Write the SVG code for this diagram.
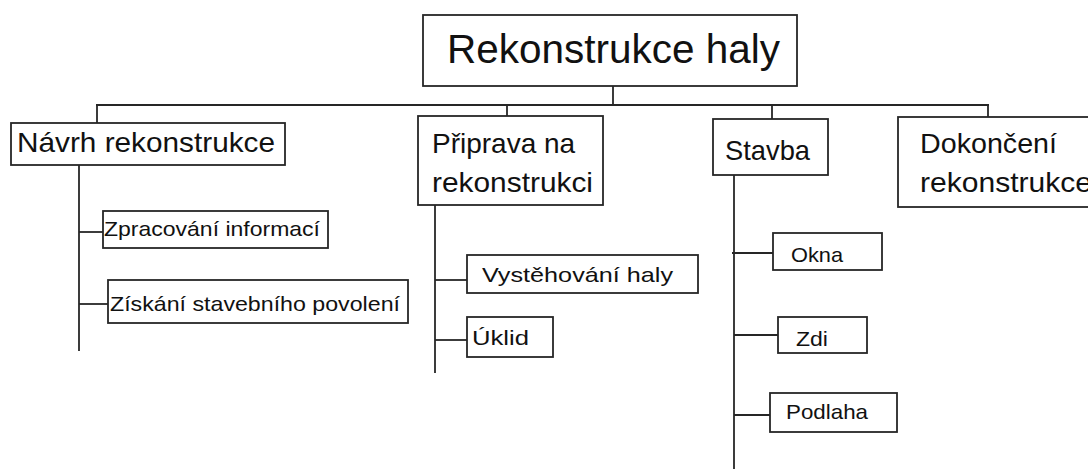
<svg xmlns="http://www.w3.org/2000/svg" width="1088" height="469" viewBox="0 0 1088 469">
  <style>
    .box { fill: #ffffff; stroke: #262626; stroke-width: 1.8; }
    .conn { fill: none; stroke: #262626; stroke-width: 1.8; }
    text { font-family: "Liberation Sans", Arial, sans-serif; fill: #111111; }
    .t1 { font-size: 41px; }
    .t2 { font-size: 28px; }
    .t3 { font-size: 21px; }
  </style>
  <rect width="1088" height="469" fill="#ffffff"/>
  <g id="connectors">
    <line class="conn" x1="613" y1="86" x2="613" y2="105"/>
    <line class="conn" x1="96" y1="105" x2="989" y2="105"/>
    <line class="conn" x1="97" y1="105" x2="97" y2="123"/>
    <line class="conn" x1="507" y1="105" x2="507" y2="116"/>
    <line class="conn" x1="772" y1="105" x2="772" y2="119"/>
    <line class="conn" x1="988" y1="105" x2="988" y2="117"/>
    <line class="conn" x1="79" y1="165" x2="79" y2="351"/>
    <line class="conn" x1="79" y1="232" x2="103" y2="232"/>
    <line class="conn" x1="79" y1="304" x2="108" y2="304"/>
    <line class="conn" x1="435" y1="205" x2="435" y2="373"/>
    <line class="conn" x1="435" y1="280" x2="467" y2="280"/>
    <line class="conn" x1="435" y1="340" x2="467" y2="340"/>
    <line class="conn" x1="734" y1="175" x2="734" y2="469"/>
    <line class="conn" x1="732" y1="253" x2="773" y2="253"/>
    <line class="conn" x1="734" y1="335" x2="778" y2="335"/>
    <line class="conn" x1="734" y1="415" x2="770" y2="415"/>
  </g>
  <g id="root">
    <rect class="box" x="423" y="15" width="374" height="71"/>
    <text class="t1" x="447" y="63" textLength="333" lengthAdjust="spacingAndGlyphs">Rekonstrukce haly</text>
  </g>
  <g id="navrh">
    <rect class="box" x="11" y="123" width="274" height="42"/>
    <text class="t2" x="17" y="152" textLength="258" lengthAdjust="spacingAndGlyphs">Návrh rekonstrukce</text>
  </g>
  <g id="zpracovani">
    <rect class="box" x="103" y="211" width="225" height="37"/>
    <text class="t3" x="104" y="236" textLength="216" lengthAdjust="spacingAndGlyphs">Zpracování informací</text>
  </g>
  <g id="ziskani">
    <rect class="box" x="108" y="280" width="300" height="43"/>
    <text class="t3" x="110" y="311" textLength="290" lengthAdjust="spacingAndGlyphs">Získání stavebního povolení</text>
  </g>
  <g id="priprava">
    <rect class="box" x="418" y="116" width="185" height="89"/>
    <text class="t2" x="432" y="153">Připrava na</text>
    <text class="t2" x="432" y="192" textLength="161" lengthAdjust="spacingAndGlyphs">rekonstrukci</text>
  </g>
  <g id="vystehovani">
    <rect class="box" x="467" y="255" width="231" height="38"/>
    <text class="t3" x="482" y="282" textLength="191" lengthAdjust="spacingAndGlyphs">Vystěhování haly</text>
  </g>
  <g id="uklid">
    <rect class="box" x="467" y="317" width="86" height="40"/>
    <text class="t3" x="472" y="345" textLength="57" lengthAdjust="spacingAndGlyphs">Úklid</text>
  </g>
  <g id="stavba">
    <rect class="box" x="713" y="119" width="115" height="56"/>
    <text class="t2" x="725" y="160" textLength="85" lengthAdjust="spacingAndGlyphs">Stavba</text>
  </g>
  <g id="okna">
    <rect class="box" x="773" y="233" width="109" height="37"/>
    <text class="t3" x="791" y="262" textLength="52" lengthAdjust="spacingAndGlyphs">Okna</text>
  </g>
  <g id="zdi">
    <rect class="box" x="778" y="317" width="89" height="36"/>
    <text class="t3" x="796" y="346" textLength="32" lengthAdjust="spacingAndGlyphs">Zdi</text>
  </g>
  <g id="podlaha">
    <rect class="box" x="770" y="393" width="127" height="39"/>
    <text class="t3" x="786" y="419" textLength="82" lengthAdjust="spacingAndGlyphs">Podlaha</text>
  </g>
  <g id="dokonceni">
    <rect class="box" x="898" y="117" width="200" height="90"/>
    <text class="t2" x="920" y="153" textLength="137" lengthAdjust="spacingAndGlyphs">Dokončení</text>
    <text class="t2" x="920" y="192" textLength="172" lengthAdjust="spacingAndGlyphs">rekonstrukce</text>
  </g>
</svg>
